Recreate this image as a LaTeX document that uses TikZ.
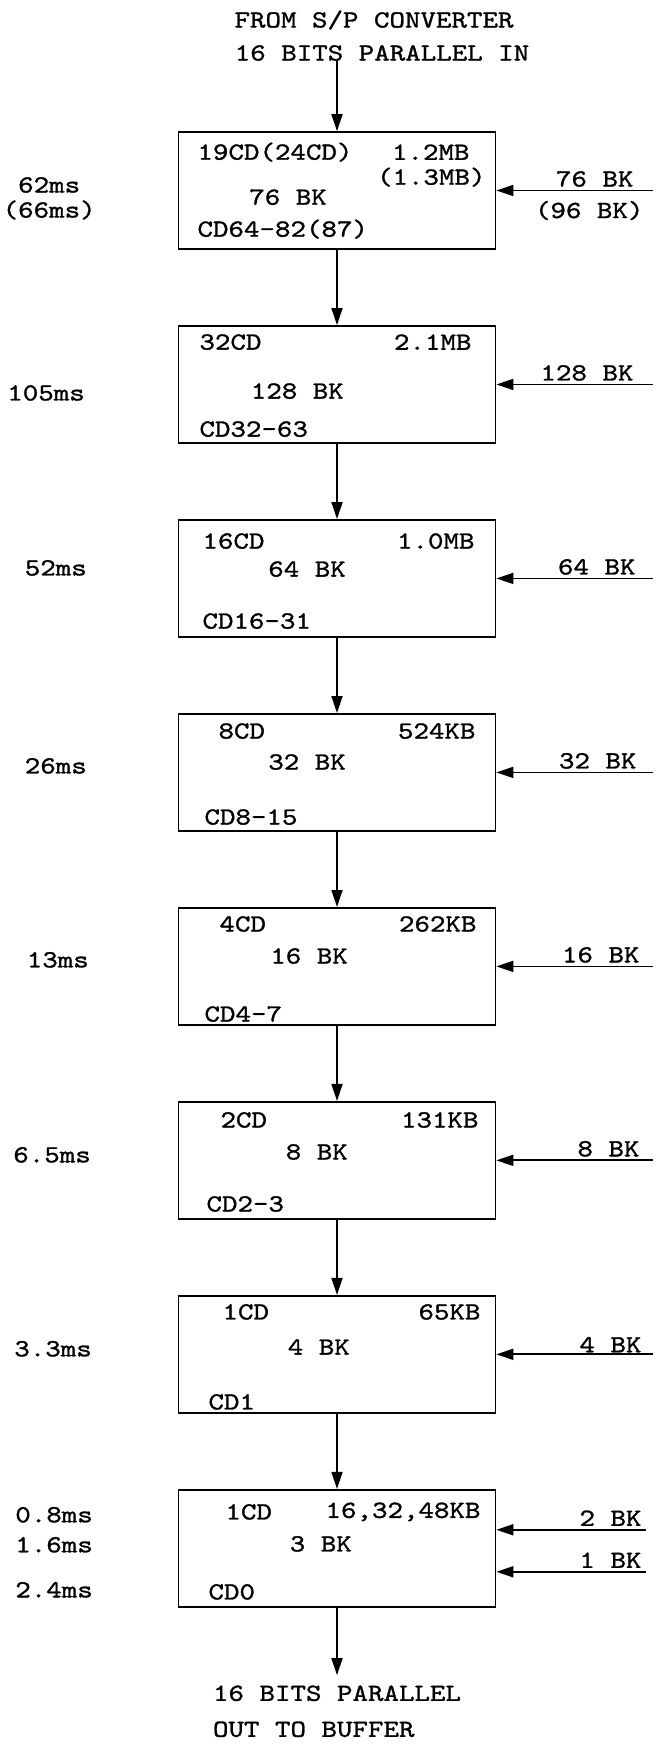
\documentclass[tikz,border=0pt]{standalone}
\usepackage{fontspec}
\newfontfamily\typewr{lmmono10-regular.otf}[FakeStretch=1.2,FakeBold=1.2]
\usetikzlibrary{arrows.meta,positioning}

\begin{document}
\begin{tikzpicture}[
  x=0.02cm, y=-0.02cm,
  node distance=1.505cm,
  every node/.style={font=\typewr\fontsize{14}{16}\selectfont, inner sep=0pt},
  box/.style={draw, line width=1pt, minimum width=6.34cm, minimum height=2.34cm},
  arr/.style={-{Triangle[length=3.4mm, width=2.2mm]}, line width=1pt}
]
  \useasboundingbox (0,0) rectangle (655,1754);

  % the eight stages
  \node[box] (b1) at (337,190.5) {};
  \node[box, below=of b1] (b2) {};
  \node[box, below=of b2] (b3) {};
  \node[box, below=of b3] (b4) {};
  \node[box, below=of b4] (b5) {};
  \node[box, below=of b5] (b6) {};
  \node[box, below=of b6] (b7) {};
  \node[box, below=of b7] (b8) {};

  % input and output
  \node (from1) at (374,20) {FROM S/P CONVERTER};
  \node (from2) at (382,53) {16 BITS PARALLEL IN};
  \node[below=1.55cm of b8] (out1) {16 BITS PARALLEL};
  \node[anchor=west] (out2) at ([shift={(0,36)}]out1.west) {OUT TO BUFFER};

  \draw[arr] (from2.south -| b1.north) -- (b1.north);
  \draw[arr] (b1) -- (b2);
  \draw[arr] (b2) -- (b3);
  \draw[arr] (b3) -- (b4);
  \draw[arr] (b4) -- (b5);
  \draw[arr] (b5) -- (b6);
  \draw[arr] (b6) -- (b7);
  \draw[arr] (b7) -- (b8);
  \draw[arr, shorten >=0.2cm] (b8) -- (out1);

  % box texts
  \node[anchor=west] (cd1)  at ([shift={(19.5,21)}]b1.north west)   {19CD(24CD)};
  \node[anchor=east] (mb1)  at ([shift={(-26.5,21)}]b1.north east)  {1.2MB};
  \node[anchor=east] (mb1b) at ([shift={(-10.5,46)}]b1.north east)  {(1.3MB)};
  \node[anchor=east] (bk1)  at ([shift={(149.5,66)}]b1.north west)  {76 BK};
  \node[anchor=west] (rg1)  at ([shift={(19.5,98)}]b1.north west)   {CD64-82(87)};

  \node[anchor=west] (cd2)  at ([shift={(21.5,17)}]b2.north west)   {32CD};
  \node[anchor=east] (mb2)  at ([shift={(-24.5,17)}]b2.north east)  {2.1MB};
  \node[anchor=east] (bk2)  at ([shift={(166.5,66)}]b2.north west)  {128 BK};
  \node[anchor=west] (rg2)  at ([shift={(21.5,104)}]b2.north west)  {CD32-63};

  \node[anchor=west] (cd3)  at ([shift={(24.5,22)}]b3.north west)   {16CD};
  \node[anchor=east] (mb3)  at ([shift={(-21.5,22)}]b3.north east)  {1.0MB};
  \node[anchor=east] (bk3)  at ([shift={(168.5,50)}]b3.north west)  {64 BK};
  \node[anchor=west] (rg3)  at ([shift={(24.5,102)}]b3.north west)  {CD16-31};

  \node[anchor=west] (cd4)  at ([shift={(40.5,18)}]b4.north west)   {8CD};
  \node[anchor=east] (mb4)  at ([shift={(-20.5,18)}]b4.north east)  {524KB};
  \node[anchor=east] (bk4)  at ([shift={(168.5,49)}]b4.north west)  {32 BK};
  \node[anchor=west] (rg4)  at ([shift={(26.5,104)}]b4.north west)  {CD8-15};

  \node[anchor=west] (cd5)  at ([shift={(41.5,17)}]b5.north west)   {4CD};
  \node[anchor=east] (mb5)  at ([shift={(-19.5,17)}]b5.north east)  {262KB};
  \node[anchor=east] (bk5)  at ([shift={(170.5,49)}]b5.north west)  {16 BK};
  \node[anchor=west] (rg5)  at ([shift={(26.5,107)}]b5.north west)  {CD4-7};

  \node[anchor=west] (cd6)  at ([shift={(42.5,19)}]b6.north west)   {2CD};
  \node[anchor=east] (mb6)  at ([shift={(-17.5,19)}]b6.north east)  {131KB};
  \node[anchor=east] (bk6)  at ([shift={(170.5,51)}]b6.north west)  {8 BK};
  \node[anchor=west] (rg6)  at ([shift={(28.5,103)}]b6.north west)  {CD2-3};

  \node[anchor=west] (cd7)  at ([shift={(44.5,17)}]b7.north west)   {1CD};
  \node[anchor=east] (mb7)  at ([shift={(-15.5,17)}]b7.north east)  {65KB};
  \node[anchor=east] (bk7)  at ([shift={(172.5,52)}]b7.north west)  {4 BK};
  \node[anchor=west] (rg7)  at ([shift={(30.5,107)}]b7.north west)  {CD1};

  \node[anchor=west] (cd8)  at ([shift={(47.5,23)}]b8.north west)   {1CD};
  \node[anchor=east] (mb8)  at ([shift={(-15.5,23)}]b8.north east)  {16,32,48KB};
  \node[anchor=east] (bk8)  at ([shift={(174.5,55)}]b8.north west)  {3 BK};
  \node[anchor=west] (rg8)  at ([shift={(30.5,103)}]b8.north west)  {CD0};

  % times on the left
  \node (t1)  at ([shift={(-128.5,-5.5)}]b1.west) {62ms};
  \node (t1b) at ([shift={(-128.5,19.5)}]b1.west) {(66ms)};
  \node[anchor=east] (t2)  at ([shift={(-92.5,8.5)}]b2.west)   {105ms};
  \node[anchor=east] (t3)  at ([shift={(-90.5,-10.5)}]b3.west) {52ms};
  \node[anchor=east] (t4)  at ([shift={(-90.5,-6.5)}]b4.west)  {26ms};
  \node[anchor=east] (t5)  at ([shift={(-88.5,-6.5)}]b5.west)  {13ms};
  \node[anchor=east] (t6)  at ([shift={(-86.5,-5.5)}]b6.west)  {6.5ms};
  \node[anchor=east] (t7)  at ([shift={(-85.5,-5.5)}]b7.west)  {3.3ms};
  \node[anchor=east] (t8a) at ([shift={(-84.5,-33.5)}]b8.west) {0.8ms};
  \node[anchor=east] (t8b) at ([shift={(-84.5,-3.5)}]b8.west)  {1.6ms};
  \node[anchor=east] (t8c) at ([shift={(-84.5,41.5)}]b8.west)  {2.4ms};

  % block inputs on the right
  \coordinate[right=3.13cm of b1] (in1);
  \coordinate[right=3.13cm of b2] (in2);
  \coordinate[right=3.13cm of b3] (in3);
  \coordinate[right=3.13cm of b4] (in4);
  \coordinate[right=3.13cm of b5] (in5);
  \coordinate[right=3.13cm of b6] (in6);
  \coordinate[right=3.13cm of b7] (in7);
  \coordinate (in8a) at ([shift={(149.5,-18.5)}]b8.east);
  \coordinate (in8b) at ([shift={(149.5,23.5)}]b8.east);

  \draw[arr] (in1) -- (b1);
  \draw[arr] (in2) -- (b2);
  \draw[arr] (in3) -- (b3);
  \draw[arr] (in4) -- (b4);
  \draw[arr] (in5) -- (b5);
  \draw[arr] (in6) -- (b6);
  \draw[arr] (in7) -- (b7);
  \draw[arr] (in8a) -- (in8a -| b8.east);
  \draw[arr] (in8b) -- (in8b -| b8.east);

  \node[anchor=base east] (n1)  at ([shift={(-19,-4)}]in1)  {76 BK};
  \node[anchor=east]      (n1b) at ([shift={(-9,20)}]in1)   {(96 BK)};
  \node[anchor=base east] (n2)  at ([shift={(-19,-4)}]in2)  {128 BK};
  \node[anchor=base east] (n3)  at ([shift={(-17,-4)}]in3)  {64 BK};
  \node[anchor=base east] (n4)  at ([shift={(-16,-4)}]in4)  {32 BK};
  \node[anchor=base east] (n5)  at ([shift={(-13,-4)}]in5)  {16 BK};
  \node[anchor=base east] (n6)  at ([shift={(-13,-4)}]in6)  {8 BK};
  \node[anchor=base east] (n7)  at ([shift={(-11,-2)}]in7)  {4 BK};
  \node[anchor=base east] (n8a) at ([shift={(-4,-4)}]in8a)  {2 BK};
  \node[anchor=base east] (n8b) at ([shift={(-4,-4)}]in8b)  {1 BK};
\end{tikzpicture}
\end{document}
